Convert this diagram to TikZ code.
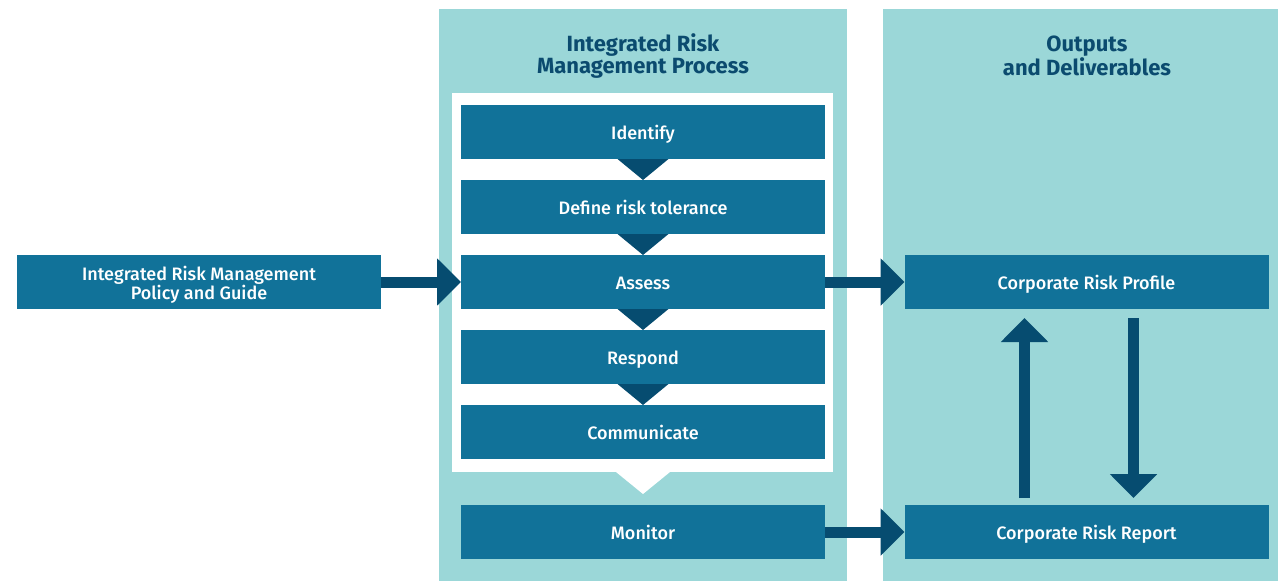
\documentclass[tikz,border=0pt]{standalone}
\usepackage{fontspec}
\setmainfont{Fira Sans}
\newfontfamily\stepfont{Fira Sans Medium}
\usetikzlibrary{positioning,calc,arrows.meta}
\definecolor{panelteal}{HTML}{9BD7D8}
\definecolor{stepblue}{HTML}{117299}
\definecolor{arrowblue}{HTML}{064C70}
\definecolor{headblue}{HTML}{0B4B6F}

\tikzset{
  stepbox/.style={fill=stepblue, text=white, minimum width=364pt, minimum height=54pt,
                  inner sep=0pt, outer sep=0pt, text height=17pt, text depth=3pt,
                  align=center, font=\stepfont\fontsize{18}{19}\selectfont},
  bigarrow/.style={arrowblue, line width=11pt, -{Triangle[length=24pt,width=46pt]}},
  header/.style={text=headblue, align=center, inner sep=0pt, text height=0pt, text depth=0pt,
                 font=\bfseries\fontsize{22}{22}\selectfont}
}

\begin{document}
\begin{tikzpicture}[x=1pt, y=-1pt]
    \useasboundingbox (0,0) rectangle (1278,581);
    % PANELS
    \fill[panelteal] (439,9) rectangle (847,581);
    \fill[panelteal] (883,9) rectangle (1278,581);
    \fill[white] (452,93) rectangle (833,472);
    \fill[white] (616,472) -- (670,472) -- (643,494) -- cycle;
    \node[header] (prochead) at (643,73) {Integrated Risk\\Management Process};
    \node[header] (outhead) at (1087,75) {Outputs\\and Deliverables};
    % PROCESS STEPS
    \node[stepbox] (identify) at (643,132) {Identify};
    \node[stepbox, below=21pt of identify] (tolerance) {Define risk tolerance};
    \node[stepbox, below=21pt of tolerance] (assess) {Assess};
    \node[stepbox, below=21pt of assess] (respond) {Respond};
    \node[stepbox, below=21pt of respond] (communicate) {Communicate};
    \node[stepbox, below=46pt of communicate] (monitor) {Monitor};
    \foreach \a/\b in {identify/tolerance, tolerance/assess, assess/respond, respond/communicate}
        \fill[arrowblue] ($(\a.south)+(-25.5,0)$) -- ($(\a.south)+(25.5,0)$) -- (\b.north) -- cycle;
    % INPUT AND OUTPUTS
    \node[stepbox, text height=37pt] (policy) at (199,282) {Integrated Risk Management\\Policy and Guide};
    \node[stepbox] (profile) at (1086.5,282) {Corporate Risk Profile};
    \node[stepbox] (report) at (1086.5,532) {Corporate Risk Report};
    % ARROWS
    \draw[bigarrow] (policy) -- (assess);
    \draw[bigarrow] (assess) -- (profile);
    \draw[bigarrow] (monitor) -- (report);
    \draw[bigarrow] ($(report.north)+(-62,-7)$) -- ($(profile.south)+(-62,9)$);
    \draw[bigarrow] ($(profile.south)+(47,9)$) -- ($(report.north)+(47,-7)$);
\end{tikzpicture}
\end{document}
